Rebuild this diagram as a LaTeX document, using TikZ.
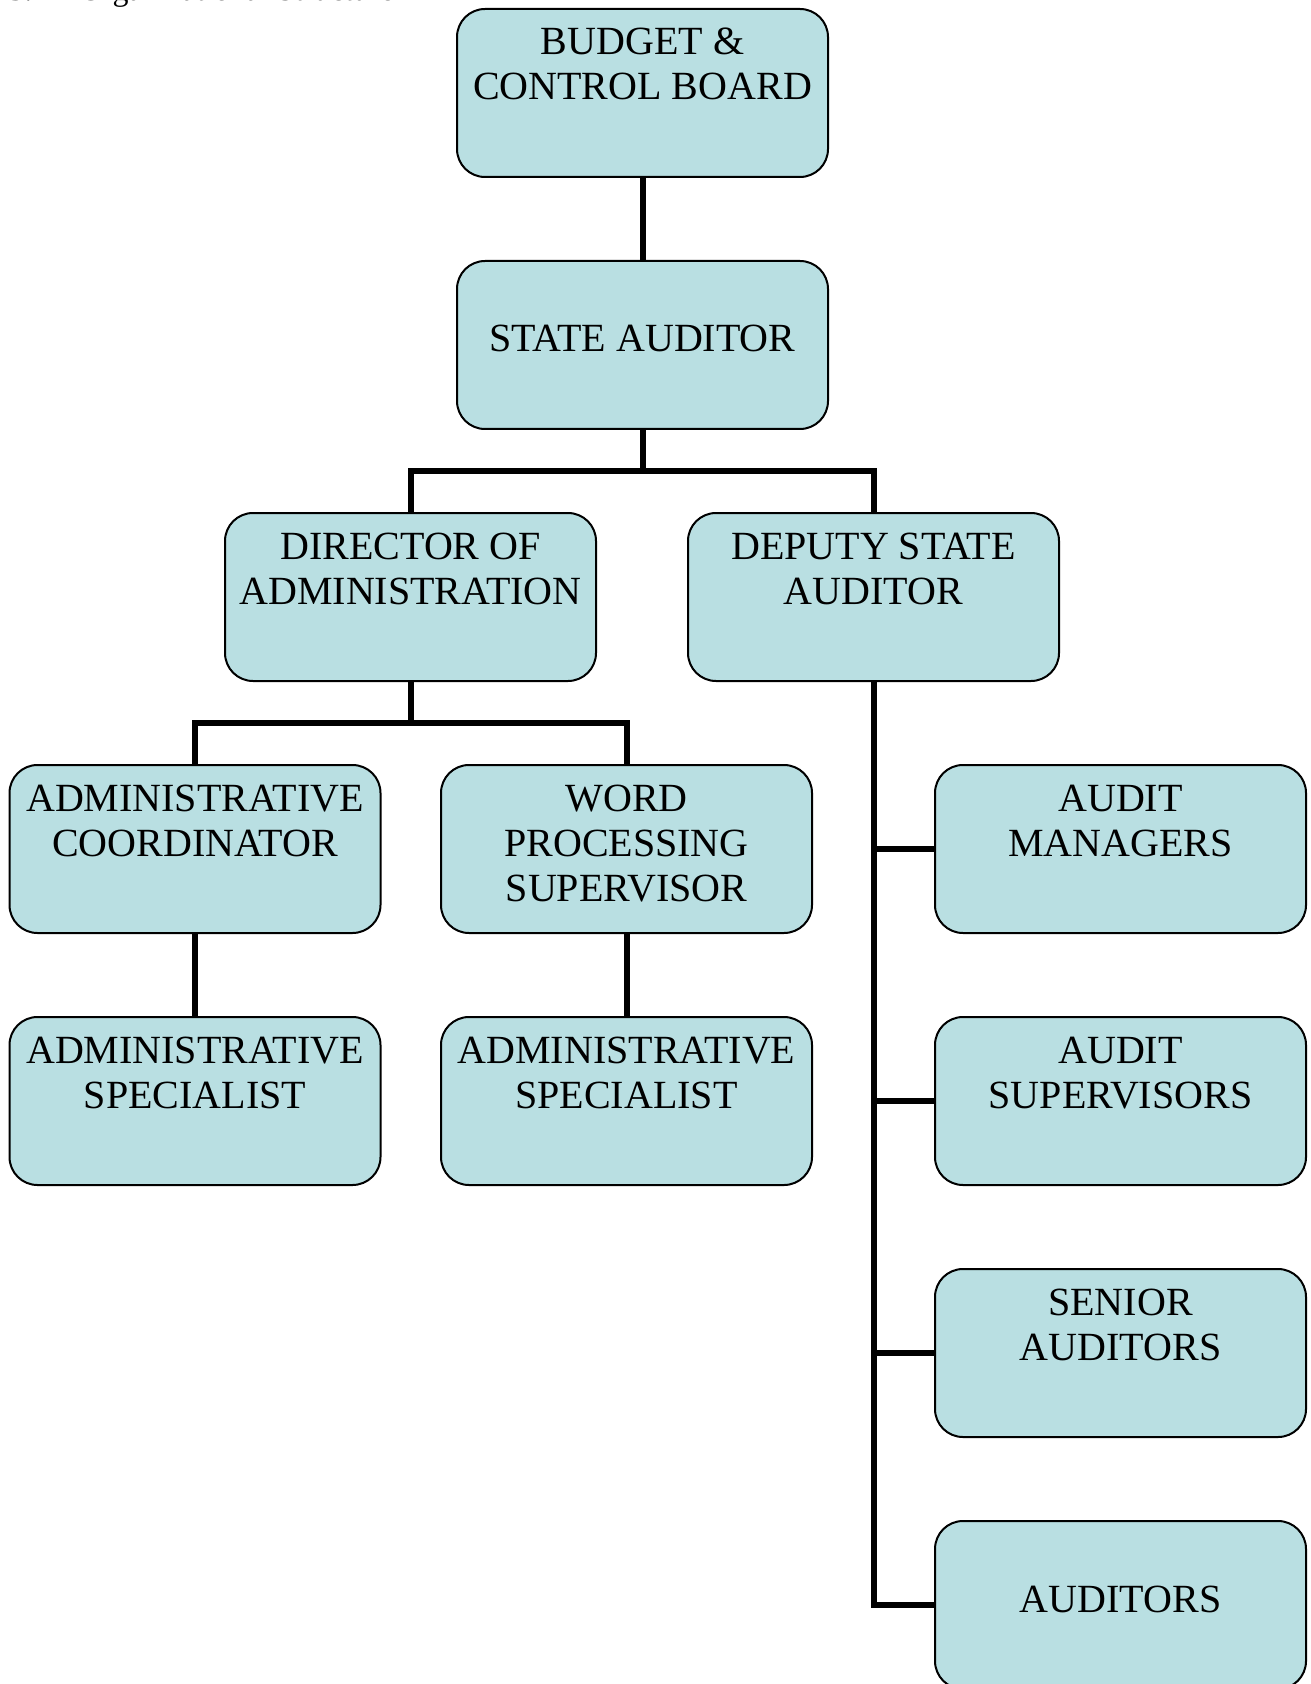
\documentclass[tikz,border=0pt]{standalone}
\usepackage{fontspec}
\setmainfont{Liberation Serif}
\usepackage{xcolor}
\usetikzlibrary{positioning}
\definecolor{boxfill}{HTML}{B9DFE2}
\definecolor{ink}{HTML}{000000}
\newcommand{\boxtext}[1]{\parbox[c][84pt][t]{185pt}{\centering\rule{0pt}{23pt}#1}}

\begin{document}
\begin{tikzpicture}[font=\fontsize{20}{22.5}\selectfont,
  unit/.style={draw=ink,line width=1pt,rounded corners=14pt,fill=boxfill,inner sep=0pt,outer sep=0pt,minimum width=185.5pt,minimum height=84pt},
  link/.style={draw=ink,line width=3pt}]
  \useasboundingbox (0,0) rectangle (655pt,-842pt);
  \node[anchor=base west,inner sep=0pt,font=\fontsize{16}{18}\selectfont] (title) at (4pt,-0.5pt) {\makebox[35.5pt][l]{3.}Organizational Structure};
  \node[unit] (bcb) at (321.25pt,-46.5pt) {\boxtext{BUDGET \&\\CONTROL BOARD}};
  \node[unit,below=42pt of bcb] (sa) {\boxtext{\\STATE AUDITOR}};
  \node[unit,below=42pt of sa,xshift=-116pt] (dir) {\boxtext{DIRECTOR OF\\ADMINISTRATION}};
  \node[unit,below=42pt of sa,xshift=115.5pt] (dep) {\boxtext{DEPUTY STATE\\AUDITOR}};
  \node[unit,below=42pt of dir,xshift=-107.75pt] (coord) {\boxtext{ADMINISTRATIVE\\COORDINATOR}};
  \node[unit,below=42pt of dir,xshift=108pt] (wp) {\boxtext{WORD\\PROCESSING\\SUPERVISOR}};
  \node[unit,below=42pt of coord] (spec1) {\boxtext{ADMINISTRATIVE\\SPECIALIST}};
  \node[unit,below=42pt of wp] (spec2) {\boxtext{ADMINISTRATIVE\\SPECIALIST}};
  \node[unit,below=42pt of dep,xshift=123.5pt] (mgr) {\boxtext{AUDIT\\MANAGERS}};
  \node[unit,below=42pt of mgr] (sup) {\boxtext{AUDIT\\SUPERVISORS}};
  \node[unit,below=42pt of sup] (sen) {\boxtext{SENIOR\\AUDITORS}};
  \node[unit,below=42pt of sen] (aud) {\boxtext{\\AUDITORS}};
  \foreach \x/\y in {bcb/sa,coord/spec1,wp/spec2} \draw[link] (\x) -- (\y);
  \foreach \x/\y in {sa/dir,sa/dep,dir/coord,dir/wp} \draw[link] (\x.south) -- ++(0,-21pt) -| (\y.north);
  \draw[link] (dep.south) |- (aud.west);
  \foreach \y in {mgr,sup,sen} \draw[link] (\y.west) -- (\y.west -| dep.south);
\end{tikzpicture}
\end{document}
